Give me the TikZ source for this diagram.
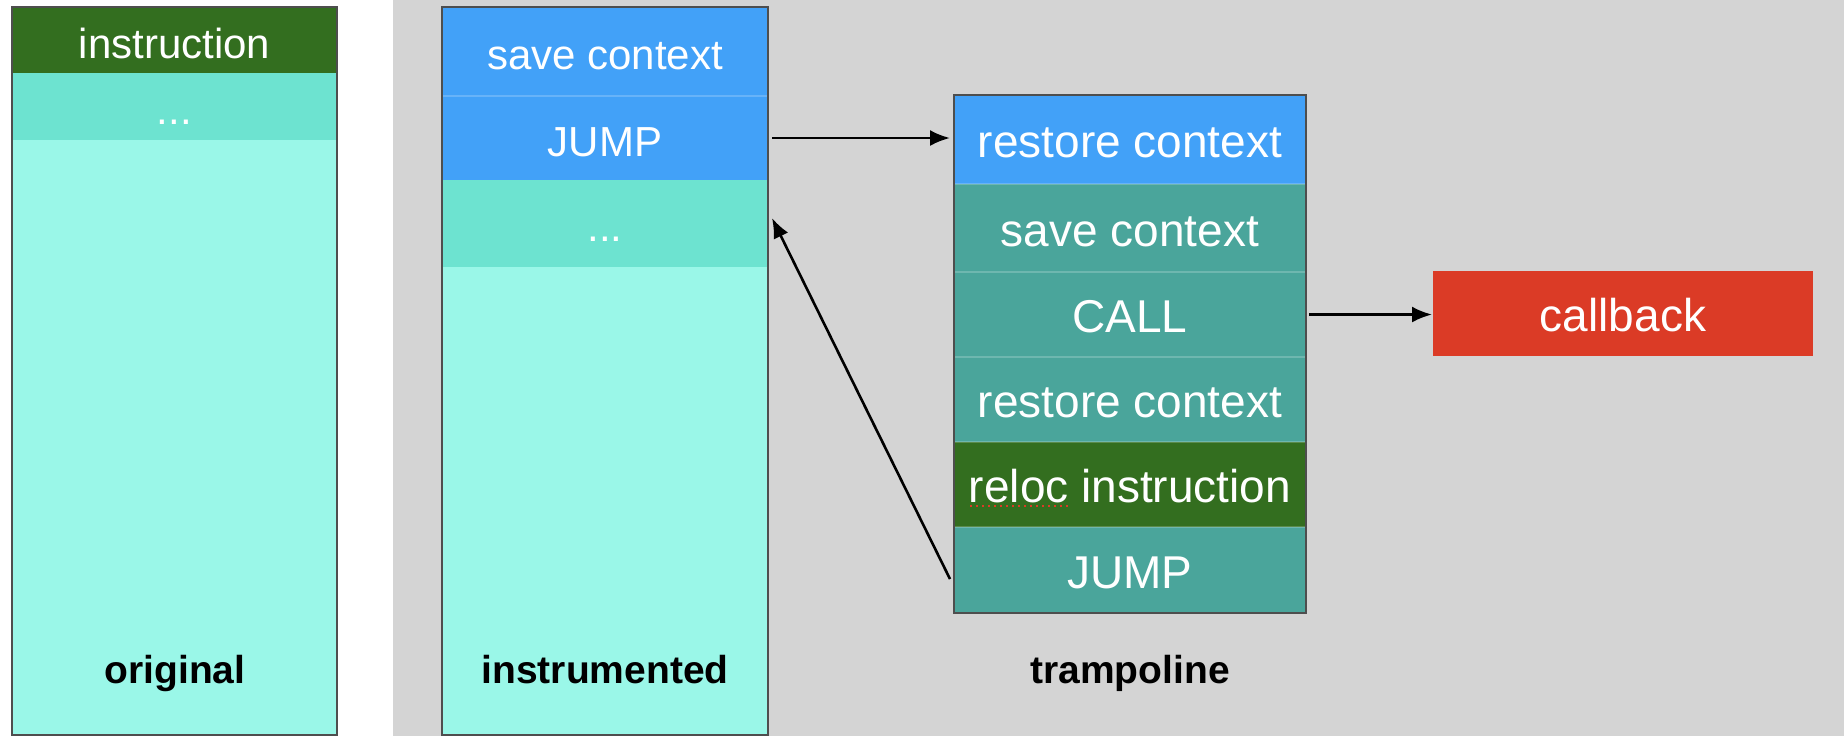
\documentclass[tikz,border=0pt]{standalone}
\usepackage{fontspec}
\setmainfont{Liberation Sans}
\usetikzlibrary{arrows.meta,calc}
\definecolor{bggray}{HTML}{D4D4D4}
\definecolor{codegreen}{HTML}{336E1F}
\definecolor{midteal}{HTML}{6DE3D0}
\definecolor{aqua}{HTML}{9AF7E8}
\definecolor{hookblue}{HTML}{42A1F8}
\definecolor{trampteal}{HTML}{4AA59B}
\definecolor{cbred}{HTML}{DB3B26}
\definecolor{framegray}{HTML}{4E4E4E}
\newcommand{\colfont}{\fontsize{21pt}{25pt}\selectfont}
\newcommand{\trfont}{\fontsize{23pt}{27pt}\selectfont}
\newcommand{\lblfont}{\fontsize{19.5pt}{23pt}\selectfont\bfseries}
\begin{document}
\begin{tikzpicture}[x=0.5pt,y=-0.5pt,
  band/.style={anchor=north west, inner sep=0pt, outer sep=0pt, text=white,
    text height=20pt, text depth=2pt, align=center},
  bw/.style={minimum width=#1*0.5pt},
  bh/.style={minimum height=#1*0.5pt},
  colband/.style={band, font=\colfont},
  trband/.style={band, font=\trfont, bw=352},
  lbl/.style={font=\lblfont, text=black, text height=15pt, text depth=2pt, inner sep=0pt},
  colframe/.style={draw=framegray, line width=1pt},
  sep/.style={draw=white, draw opacity=0.2, line width=0.7pt},
  conn/.style={draw=black, line width=1.3pt, -{Latex[length=10pt,width=8pt]}}
]
\useasboundingbox (0,0) rectangle (1844,736);
\fill[white] (0,0) rectangle (1844,736);
\fill[bggray] (393,0) rectangle (1844,736);

% original code
\node[colband, fill=codegreen, bw=325, bh=66] (oinst) at (12,7) {instruction};
\node[colband, fill=midteal, bw=325, bh=67] (odots) at (12,73) {...};
\node[colband, fill=aqua, bw=325, bh=595] (orest) at (12,140) {};
\draw[colframe] (oinst.north west) rectangle (orest.south east);
\node[lbl] (lorig) at (175,670) {original};

% instrumented code
\node[colband, fill=hookblue, bw=326, bh=89] (isave) at (442,7) {save context};
\node[colband, fill=hookblue, bw=326, bh=84] (ijump) at (442,96) {JUMP};
\node[colband, fill=midteal, bw=326, bh=87] (idots) at (442,180) {...};
\node[colband, fill=aqua, bw=326, bh=468] (irest) at (442,267) {};
\draw[sep] (isave.south west) -- (isave.south east);
\draw[colframe] (isave.north west) rectangle (irest.south east);
\node[lbl] (linst) at (605,670) {instrumented};

% trampoline
\node[trband, fill=hookblue, bh=89] (tres1) at (954,95) {restore context};
\node[trband, fill=trampteal, bh=88] (tsave) at (954,184) {save context};
\node[trband, fill=trampteal, bh=85] (tcall) at (954,272) {CALL};
\node[trband, fill=trampteal, bh=85] (tres2) at (954,357) {restore context};
\node[trband, fill=codegreen, bh=85] (treloc) at (954,442) {reloc instruction};
\node[trband, fill=trampteal, bh=86] (tjump) at (954,527) {JUMP};
\foreach \b in {tres1,tsave,tcall,tres2,treloc,tjump}
  \draw[sep] (\b.south west) -- (\b.south east);
\draw[colframe] (tres1.north west) rectangle (tjump.south east);
\draw[cbred, dotted, line width=1pt] ($(treloc.center)+(-160,21)$) -- ++(100,0);
\node[lbl] (ltramp) at (1130,670) {trampoline};

% callback
\node[band, font=\trfont, fill=cbred, bw=380, bh=85] (cb) at (1433,271) {callback};

% control flow
\draw[conn, shorten >=2pt] ([xshift=2pt]ijump.east) -- (ijump.east -| tres1.west);
\draw[conn, shorten >=0.5pt] ([xshift=1.5pt]tcall.east) -- (tcall.east -| cb.west);
\draw[conn] ([xshift=-2pt,yshift=-4.5pt]tjump.west) -- ([xshift=2pt,yshift=2.75pt]idots.east);
\end{tikzpicture}
\end{document}
